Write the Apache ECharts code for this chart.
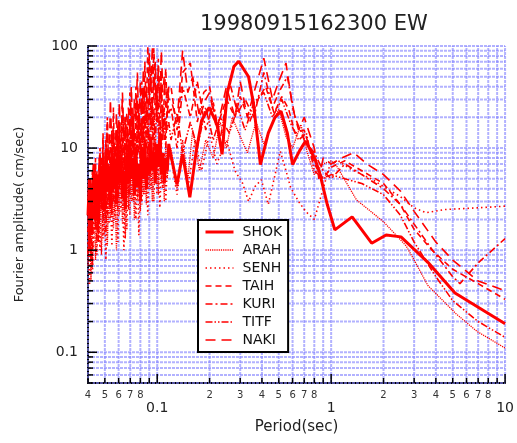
<!DOCTYPE html>
<html>
<head>
<meta charset="utf-8">
<script src="https://cdn.jsdelivr.net/npm/echarts@6/dist/echarts.min.js"></script>
<style>
html,body{margin:0;padding:0;background:#fff;}
#chart{width:517px;height:443px;}
</style>
</head>
<body>
<div id="chart"></div>
<script>
// axis ranges
var X_MIN = 0.04, X_MAX = 10;
var Y_MIN = 0.05, Y_MAX = 100;

var stationNames = ['SHOK','ARAH','SENH','TAIH','KURI','TITF','NAKI'];

// short periods shared by all stations (noisy part)
var periodsShort = [0.040,0.0408,0.0416,0.0424,0.0433,0.0442,0.0450,0.0459,0.0469,0.0478,
	0.0488,0.0497,0.0507,0.0517,0.0528,0.0538,0.0549,0.0560,0.0571,0.0583,
	0.0594,0.0606,0.0618,0.0631,0.0643,0.0656,0.0669,0.0683,0.0696,0.0710,
	0.0725,0.0739,0.0754,0.0769,0.0784,0.0800,0.0816,0.0832,0.0849,0.0866,
	0.0883,0.0901,0.0919,0.0937,0.0956,0.0975,0.0995,0.1015,0.1035,0.1056,
	0.1077,0.1098,0.1120,0.1143,0.1165];

var shokShort = [2.2,5.0,1.5,3.5,7.0,2.0,5.5,1.8,8.0,3.0, 6.5,2.4,9.5,3.8,6.0,2.6,10,4.0,7.5,2.8, 11,4.5,8.5,3.2,6.0,2.5,9.0,4.5,12,5.0, 8.0,3.5,10,4.2,7.0,3.0, 9.5,5.0,12,4.0,8.0,5.5,13,6.0,9.0,4.5,11,6.5,14,5.5,9.0,4.5,8.0,6.0,11];
var arahShort = [0.7,2.5,0.5,1.8,3.5,0.8,2.8,1.2,4.5,0.9, 3.0,1.4,5.5,1.1,4.0,2.0,6.5,1.6,3.5,1.0, 5.0,2.2,7.5,1.8,4.0,1.3,6.0,2.5,8.5,3.0, 5.5,2.0,7.0,3.2,4.5,2.4, 9.0,3.5,6.5,2.8,10,4.0,7.0,3.0,12,5.0,8.0,3.5,9.5,4.5,7.0,3.0,11,5.0,9.0];
var senhShort = [1.2,0.45,2.0,0.6,1.5,3.0,0.9,2.4,1.0,4.0, 1.3,3.2,0.8,5.0,1.8,3.5,1.1,6.0,2.0,4.5, 1.2,7.0,2.4,5.0,1.0,4.0,1.6,6.5,2.2,8.0, 3.0,5.5,2.0,7.0,1.4,4.5, 2.8,8.5,3.5,6.0,2.2,9.0,4.0,6.5,3.0,10,3.5,7.5,2.6,6.0,4.0,9.0,3.0,7.0,8.0];
var taihShort = [1.5,4.0,0.8,6.0,2.0,8.0,1.2,5.0,10,2.5, 14,3.0,9.0,20,4.0,12,2.8,25,5.0,15, 3.5,18,6.0,30,4.5,14,22,6.0,35,8.0, 20,5.0,40,10,25,7.0, 45,12,70,20,100,30,60,15,95,40,20,75,25,50,12,35,60,20,40];
var kuriShort = [0.9,3.0,1.4,0.7,4.5,1.8,6.0,1.2,3.5,8.0, 2.0,5.0,1.5,10,3.0,7.0,2.2,15,4.0,9.0, 2.5,18,5.0,12,3.0,20,6.0,14,3.5,25, 8.0,16,4.5,30,9.0,18, 5.0,35,12,25,6.0,40,15,28,7.0,45,18,30,9.0,38,14,25,10,30,22];
var titfShort = [2.5,1.0,3.5,1.4,5.0,2.0,4.0,1.5,6.5,2.5, 9.0,3.0,12,2.2,7.0,4.0,15,3.0,10,5.0, 16,4.0,11,6.0,20,5.0,13,3.5,18,7.0, 25,6.0,14,8.0,22,6.5, 16,9.0,28,10,20,7.5,30,12,24,9.0,35,14,22,10,26,12,20,15,18];
var nakiShort = [3.0,1.2,4.5,2.0,7.0,1.6,5.5,3.0,9.0,2.5, 12,4.0,8.0,18,5.0,30,9.0,15,6.0,22, 10,28,7.0,35,12,20,8.0,25,14,40, 10,30,18,55,15,45, 12,60,25,40,20,85,35,100,30,70,22,60,28,90,35,50,25,40,30];

// longer periods: [period, amplitude]
var shokLong = [[0.118,9.6],[0.13,4.4],[0.14,8.7],[0.154,3.3],[0.168,9.6],[0.18,18.6],[0.199,25],[0.221,17],[0.236,8.7],[0.252,34],[0.276,63],[0.294,71],[0.335,50],[0.358,27],[0.392,6.9],[0.435,14],[0.475,20],[0.515,23],[0.56,14],[0.6,6.9],[0.66,9.5],[0.713,11.7],[0.8,8.1],[0.855,5.9],[0.95,2.8],[1.05,1.58],[1.32,2.12],[1.71,1.17],[2.07,1.41],[2.52,1.35],[3.6,0.76],[5.15,0.38],[10,0.19]];
var arahLong = [[0.12,10],[0.13,4],[0.14,12],[0.15,5],[0.16,15],[0.175,6],[0.19,12],[0.21,8],[0.23,18],[0.25,10],[0.27,20],[0.3,13],[0.33,9],[0.37,18],[0.41,11],[0.45,16],[0.5,24],[0.55,13],[0.6,10],[0.67,17],[0.73,9],[0.8,5.5],[0.9,7],[1.0,7.5],[1.08,6.6],[1.4,3.1],[2.0,1.9],[2.7,1.1],[3.0,0.8],[3.6,0.45],[5.2,0.24],[6.9,0.16],[10,0.11]];
var senhLong = [[0.12,8],[0.13,3.5],[0.14,10],[0.15,4],[0.165,12],[0.18,6],[0.2,14],[0.22,7],[0.25,12],[0.28,6],[0.31,4.5],[0.335,3.0],[0.365,4.2],[0.397,4.9],[0.435,2.8],[0.47,5],[0.51,9.3],[0.55,6],[0.585,4.1],[0.65,3.0],[0.713,2.4],[0.8,2.0],[0.89,3.75],[0.985,6.9],[1.1,7.5],[1.3,6.2],[1.7,5.0],[2.2,3.8],[2.5,3.35],[3.0,2.6],[3.5,2.33],[4.5,2.5],[7,2.6],[10,2.7]];
var taihLong = [[0.12,40],[0.13,15],[0.14,55],[0.155,68],[0.17,18],[0.185,35],[0.2,40],[0.22,16],[0.25,30],[0.28,20],[0.3,32],[0.34,18],[0.38,30],[0.42,40],[0.47,22],[0.52,32],[0.57,24],[0.62,14],[0.7,15],[0.8,7],[0.9,5],[1.0,6.5],[1.2,7.5],[1.5,6],[2.0,4.5],[2.5,2.8],[3.0,1.6],[3.8,1.0],[5.0,0.65],[7.0,0.47],[10,0.33]];
var kuriLong = [[0.12,25],[0.13,10],[0.14,40],[0.155,20],[0.17,45],[0.19,15],[0.21,28],[0.23,12],[0.26,45],[0.29,22],[0.32,30],[0.36,20],[0.41,55],[0.46,25],[0.5,35],[0.56,50],[0.62,20],[0.7,12],[0.8,9],[0.9,6],[1.0,5],[1.2,7],[1.5,5.5],[2.0,4],[2.5,2.8],[3.0,1.8],[4.0,0.9],[5.0,0.55],[5.5,0.47],[7.0,0.75],[10,1.3]];
var titfLong = [[0.12,12],[0.13,22],[0.14,9],[0.155,18],[0.17,10],[0.19,25],[0.21,12],[0.23,20],[0.26,14],[0.29,25],[0.32,15],[0.36,28],[0.41,35],[0.46,20],[0.52,30],[0.58,18],[0.65,12],[0.72,14],[0.8,6],[0.9,5],[1.0,5.5],[1.2,5],[1.5,4.5],[2.0,3.5],[2.5,2.2],[3.0,1.2],[4.0,0.55],[5.0,0.32],[7.0,0.2],[10,0.14]];
var nakiLong = [[0.12,30],[0.13,18],[0.14,90],[0.15,35],[0.16,50],[0.175,20],[0.19,30],[0.2,35],[0.22,15],[0.25,40],[0.28,20],[0.3,45],[0.33,20],[0.36,35],[0.41,76],[0.46,30],[0.5,45],[0.55,68],[0.6,25],[0.65,15],[0.7,20],[0.8,10],[0.85,5],[0.9,8],[1.0,7],[1.15,8],[1.35,9],[1.6,7],[2.0,5.5],[2.5,3.8],[3.0,2.4],[4.0,1.2],[5.0,0.8],[7.0,0.5],[10,0.4]];

// grid / ticks
var xGridValues = [0.04,0.05,0.06,0.07,0.08,0.09,0.1,0.2,0.3,0.4,0.5,0.6,0.7,0.8,0.9,1,2,3,4,5,6,7,8,9,10];
var yGridValues = [0.05,0.06,0.07,0.08,0.09,0.1,0.2,0.3,0.4,0.5,0.6,0.7,0.8,0.9,1,2,3,4,5,6,7,8,9,10,20,30,40,50,60,70,80,90,100];
var xMajorTicks = [0.1,1,10];
var yMajorTicks = [0.1,1,10,100];
var xMinorLabelValues = [0.04,0.05,0.06,0.07,0.08,0.2,0.3,0.4,0.5,0.6,0.7,0.8,2,3,4,5,6,7,8];
var xMinorLabelTexts = ['4','5','6','7','8','2','3','4','5','6','7','8','2','3','4','5','6','7','8'];

var FONT = 'DejaVu Sans';
var GRID_COLOR = 'rgba(130,130,255,0.62)';
var RED = '#ff0000';

function joinSeries(shortVals, longPairs){
	var out = [];
	for (var i = 0; i < periodsShort.length; i++) out.push([periodsShort[i], shortVals[i]]);
	return out.concat(longPairs);
}

function isPow10(v){
	var l = Math.log10(v);
	return Math.abs(l - Math.round(l)) < 1e-6;
}

var styles = {
	SHOK:{width:3, type:'solid'},
	ARAH:{width:1.3, type:[1.2,1]},
	SENH:{width:1.6, type:[1.5,3]},
	TAIH:{width:1.6, type:[6,4]},
	KURI:{width:1.6, type:[7,3,2,3]},
	TITF:{width:1.6, type:[7,2,1.5,2,1.5,2]},
	NAKI:{width:1.6, type:[10,6]}
};
var stationData = {
	SHOK:joinSeries(shokShort, shokLong),
	ARAH:joinSeries(arahShort, arahLong),
	SENH:joinSeries(senhShort, senhLong),
	TAIH:joinSeries(taihShort, taihLong),
	KURI:joinSeries(kuriShort, kuriLong),
	TITF:joinSeries(titfShort, titfLong),
	NAKI:joinSeries(nakiShort, nakiLong)
};

var series = [];

// blue dotted grid
series.push({
	type:'custom', silent:true, z:1, animation:false,
	data:xGridValues.map(function(v){return [v, Y_MIN];}),
	renderItem:function(params, api){
		var v = api.value(0);
		var p1 = api.coord([v, Y_MIN]), p2 = api.coord([v, Y_MAX]);
		return {type:'line', shape:{x1:p1[0],y1:p1[1],x2:p2[0],y2:p2[1]}, style:{stroke:GRID_COLOR,lineWidth:2,lineDash:[3,1]}};
	}
});
series.push({
	type:'custom', silent:true, z:1, animation:false,
	data:yGridValues.map(function(v){return [X_MIN, v];}),
	renderItem:function(params, api){
		var v = api.value(1);
		var p1 = api.coord([X_MIN, v]), p2 = api.coord([X_MAX, v]);
		return {type:'line', shape:{x1:p1[0],y1:p1[1],x2:p2[0],y2:p2[1]}, style:{stroke:GRID_COLOR,lineWidth:2,lineDash:[3,1]}};
	}
});

// ticks on the bottom axis
series.push({
	type:'custom', silent:true, z:5, animation:false,
	data:xGridValues.map(function(v){return [v, Y_MIN];}),
	renderItem:function(params, api){
		var v = api.value(0);
		var p = api.coord([v, Y_MIN]);
		var len = xMajorTicks.indexOf(v) >= 0 ? 9 : 5;
		return {type:'line', shape:{x1:p[0],y1:p[1],x2:p[0],y2:p[1]-len}, style:{stroke:'#000',lineWidth:1.5}};
	}
});
// ticks on the left axis
series.push({
	type:'custom', silent:true, z:5, animation:false,
	data:yGridValues.map(function(v){return [X_MIN, v];}),
	renderItem:function(params, api){
		var v = api.value(1);
		var p = api.coord([X_MIN, v]);
		var len = yMajorTicks.indexOf(v) >= 0 ? 9 : 5;
		return {type:'line', shape:{x1:p[0],y1:p[1],x2:p[0]+len,y2:p[1]}, style:{stroke:'#000',lineWidth:1.5}};
	}
});
// small digit labels under the x axis
series.push({
	type:'custom', silent:true, z:5, animation:false,
	data:xMinorLabelValues.map(function(v){return [v, Y_MIN];}),
	renderItem:function(params, api){
		var p = api.coord([api.value(0), Y_MIN]);
		return {type:'text', style:{text:xMinorLabelTexts[params.dataIndex], x:p[0], y:p[1]+7, fill:'#333', font:'10px ' + FONT, align:'center', verticalAlign:'top'}};
	}
});

stationNames.forEach(function(name){
	series.push({
		name:name,
		type:'line',
		z:3,
		symbol:'none',
		showSymbol:false,
		animation:false,
		data:stationData[name],
		lineStyle:{color:RED, width:styles[name].width, type:styles[name].type},
		itemStyle:{color:RED}
	});
});

var myChart = echarts.init(document.getElementById('chart'));
myChart.setOption({
	backgroundColor:'#fff',
	animation:false,
	title:{
		text:'19980915162300 EW',
		left:195, top:9,
		textStyle:{fontFamily:FONT, fontSize:21, fontWeight:'normal', color:'#222'}
	},
	legend:{
		orient:'vertical',
		left:198, top:220,
		data:stationNames.map(function(name){
			return {name:name, lineStyle:{color:RED, width:Math.max(styles[name].width, 1.5), type:styles[name].type}};
		}),
		itemWidth:28, itemHeight:14, itemGap:4,
		padding:[5,6,5,6],
		backgroundColor:'#fff',
		borderColor:'#000', borderWidth:2, borderRadius:0,
		itemStyle:{color:'rgba(0,0,0,0)', borderWidth:0, opacity:0},
		textStyle:{fontFamily:FONT, fontSize:14, color:'#111', padding:[0,0,0,4]},
		z:10
	},
	grid:{left:88, right:7, top:46, bottom:60},
	xAxis:{
		type:'log', logBase:10, min:X_MIN, max:X_MAX,
		name:'Period(sec)', nameLocation:'middle', nameGap:36,
		nameTextStyle:{fontFamily:FONT, fontSize:15, color:'#222'},
		axisLine:{show:true, onZero:false, lineStyle:{color:'#000', width:2}},
		axisTick:{show:false},
		splitLine:{show:false},
		axisLabel:{
			margin:18, fontFamily:FONT, fontSize:14, color:'#222',
			formatter:function(v){return isPow10(v) ? String(v) : '';}
		}
	},
	yAxis:{
		type:'log', logBase:10, min:Y_MIN, max:Y_MAX,
		name:'Fourier amplitude( cm/sec)', nameLocation:'middle', nameGap:62,
		nameTextStyle:{fontFamily:FONT, fontSize:13, color:'#222'},
		axisLine:{show:true, onZero:false, lineStyle:{color:'#000', width:2}},
		axisTick:{show:false},
		splitLine:{show:false},
		axisLabel:{
			margin:10, fontFamily:FONT, fontSize:14, color:'#222',
			formatter:function(v){return isPow10(v) ? String(v) : '';}
		}
	},
	series:series
});
</script>
</body>
</html>
